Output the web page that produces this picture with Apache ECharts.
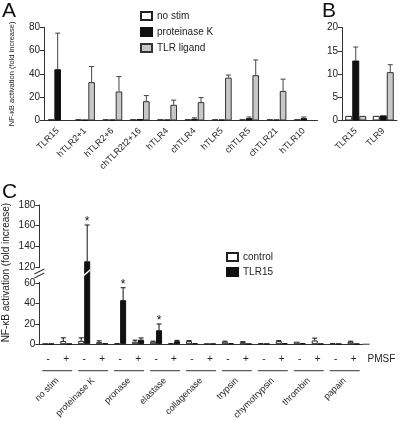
<!DOCTYPE html>
<html><head><meta charset="utf-8">
<script src="https://cdn.jsdelivr.net/npm/echarts@6/dist/echarts.min.js"></script>
<style>html,body{margin:0;padding:0;background:#fff}#c{width:400px;height:422px}</style>
</head><body><div id="c"></div>
<script>
// ---- Panel A data ----
const catsA = ['TLR15','hTLR2+1','hTLR2+6','chTLR2t2+16','hTLR4','chTLR4','hTLR5','chTLR5','chTLR21','hTLR10'];
const noStimA = [1,1,1,1,1,1,1,1,1,1];
const protKA = [44,0.6,0.8,1.3,0.8,1.5,0.8,2,0.8,2];
const protKErrA = [75,null,null,null,null,2.3,null,3,null,3];
const ligandA = [null,32.9,24.9,16.6,13.5,15.8,36.8,38.9,25.4,null];
const ligandErrA = [null,46.3,37.7,21.4,17.5,19.7,39,52,35.5,null];
const ticksA = [0,20,40,60,80];
// ---- Panel B data ----
const catsB = ['TLR15','TLR9'];
const noStimB = [1,1];
const protKB = [12.9,1.1];
const protKErrB = [15.8,null];
const ligandB = [1,10.4];
const ligandErrB = [null,12.0];
const ticksB = [0,5,10,15,20];
// ---- Panel C data ----
const pmsfC = ['-','+','-','+','-','+','-','+','-','+','-','+','-','+','-','+','-','+'];
const proteasesC = ['no stim','proteinase K','pronase','elastase','collagenase','trypsin','chymotrypsin','thrombin','papain'];
const controlC = [0.5,3.1,3.3,2,1,2.5,2.5,1,3,0.5,2.5,2,1,3,2.5,3.7,1,2.5];
const controlErrC = [null,6.3,6.3,3.3,null,4,3,null,3.5,null,3,2.5,null,3.5,null,6,null,3];
const tlr15C = [0.5,0.5,125.4,1,43.5,4.5,13.8,3,1,0.5,1,0.5,0.5,1,1,0.5,0.5,0.5];
const tlr15ErrC = [null,null,160.6,null,55.8,6.2,20,3.8,null,null,null,null,null,null,null,null,null,null];
const starsC = [2,4,6];
const ticksCLow = [0,20,40,60];
const ticksCUp = [120,140,160,180];
const cLowMax = 71.36, cUpMin = 115;

const FONT = 'Liberation Sans, Arial, Helvetica, sans-serif';
const AX = '#333', TX = '#222';

function errData(vals, errs, stars){
  const out=[];
  vals.forEach((v,i)=>{ if(errs[i]!=null) out.push([i, v, errs[i], stars && stars.includes(i)?1:0]); });
  return out;
}
function errSeries(xi, yi, data, k, n, bw, color){
  return {type:'custom', xAxisIndex:xi, yAxisIndex:yi, clip:true, silent:true, z:5,
    encode:{x:0, y:[1,2]}, data:data,
    renderItem:(params, api)=>{
      const i=api.value(0), v=api.value(1), e=api.value(2), s=api.value(3);
      const c=api.coord([i,v]), t=api.coord([i,e]);
      const x=c[0]+(k-(n-1)/2)*bw;
      const ch=[
        {type:'line', shape:{x1:x,y1:c[1],x2:x,y2:t[1]}, style:{stroke:color,lineWidth:1}},
        {type:'line', shape:{x1:x-2.5,y1:t[1],x2:x+2.5,y2:t[1]}, style:{stroke:color,lineWidth:1}}
      ];
      if(s) ch.push({type:'text', x:x, y:t[1]-3, style:{text:'*', fontSize:12, fontFamily:FONT, fill:'#111', align:'center', verticalAlign:'middle'}});
      return {type:'group', children:ch};
    }};
}
function yAx(gi, min, max, ticks, extra){
  return Object.assign({type:'value', gridIndex:gi, min:min, max:max,
    axisLine:{show:true, lineStyle:{color:AX}},
    axisTick:{show:true, length:4, customValues:ticks, lineStyle:{color:AX}},
    axisLabel:{fontSize:10, color:TX, margin:4, customValues:ticks, fontFamily:FONT},
    splitLine:{show:false}}, extra||{});
}
const white = {color:'#fff', borderColor:'#222', borderWidth:1};
const black = {color:'#111', borderColor:'#111', borderWidth:1};
const gray  = {color:'#c8c8c8', borderColor:'#333', borderWidth:1};
const bwA=6.6, bwB=7, bwC=6;

const chart = echarts.init(document.getElementById('c'));
const option = {
  animation:false,
  textStyle:{fontFamily:FONT},
  grid:[
    {left:38.5, top:27.3, width:279, height:93.2},
    {left:342, top:27.5, width:55, height:93},
    {left:39.3, top:205, width:323.3, height:67},
    {left:39.3, top:272, width:323.3, height:73.5}
  ],
  xAxis:[
    {type:'category', gridIndex:0, data:catsA, axisLine:{lineStyle:{color:AX}},
      axisTick:{alignWithLabel:true, length:5, lineStyle:{color:AX}},
      axisLabel:{rotate:45, fontSize:9, color:TX, margin:9, interval:0}},
    {type:'category', gridIndex:1, data:catsB, axisLine:{lineStyle:{color:AX}},
      axisTick:{alignWithLabel:true, length:5, lineStyle:{color:AX}},
      axisLabel:{rotate:45, fontSize:9, color:TX, margin:9, interval:0}},
    {type:'category', gridIndex:2, data:pmsfC, show:false},
    {type:'category', gridIndex:3, data:pmsfC, axisLine:{lineStyle:{color:AX}},
      axisTick:{alignWithLabel:true, length:5, lineStyle:{color:AX}},
      axisLabel:{fontSize:10, color:TX, margin:10, interval:0}},
    {type:'category', gridIndex:3, data:proteasesC, position:'bottom', offset:32,
      axisLine:{show:false}, axisTick:{show:false},
      axisLabel:{rotate:45, fontSize:9, color:TX, margin:3, interval:0}}
  ],
  yAxis:[
    yAx(0, 0, 80, ticksA, {name:'NF-κB activation (fold increase)', nameLocation:'middle', nameGap:28, nameTextStyle:{fontSize:7.5, color:TX}}),
    yAx(1, 0, 20, ticksB),
    yAx(2, cUpMin, 180, ticksCUp),
    yAx(3, 0, cLowMax, ticksCLow)
  ],
  legend:[
    {left:140, top:11, orient:'vertical', itemWidth:11, itemHeight:8, itemGap:6, padding:0, icon:'rect',
      textStyle:{fontSize:10, color:TX}, data:['no stim','proteinase K','TLR ligand'], selectedMode:false},
    {left:226, top:252, orient:'vertical', itemWidth:11, itemHeight:8, itemGap:5, padding:0, icon:'rect',
      textStyle:{fontSize:10, color:TX}, data:['control','TLR15'], selectedMode:false}
  ],
  series:[
    {name:'no stim', type:'bar', xAxisIndex:0, yAxisIndex:0, data:noStimA, barWidth:bwA, barGap:'0%', itemStyle:white},
    {name:'proteinase K', type:'bar', xAxisIndex:0, yAxisIndex:0, data:protKA, barWidth:bwA, barGap:'0%', itemStyle:black},
    {name:'TLR ligand', type:'bar', xAxisIndex:0, yAxisIndex:0, data:ligandA, barWidth:bwA, barGap:'0%', itemStyle:gray},
    errSeries(0,0,errData(protKA, protKErrA),1,3,bwA,'#444'),
    errSeries(0,0,errData(ligandA, ligandErrA),2,3,bwA,'#444'),
    {name:'no stim', type:'bar', xAxisIndex:1, yAxisIndex:1, data:noStimB, barWidth:bwB, barGap:'0%', itemStyle:white},
    {name:'proteinase K', type:'bar', xAxisIndex:1, yAxisIndex:1, data:protKB, barWidth:bwB, barGap:'0%', itemStyle:black},
    {name:'TLR ligand', type:'bar', xAxisIndex:1, yAxisIndex:1, data:ligandB, barWidth:bwB, barGap:'0%', itemStyle:gray},
    errSeries(1,1,errData(protKB, protKErrB),1,3,bwB,'#444'),
    errSeries(1,1,errData(ligandB, ligandErrB),2,3,bwB,'#444'),
    {name:'control', type:'bar', xAxisIndex:2, yAxisIndex:2, data:controlC, barWidth:bwC, barGap:'0%', itemStyle:white, clip:true},
    {name:'TLR15', type:'bar', xAxisIndex:2, yAxisIndex:2, data:tlr15C, barWidth:bwC, barGap:'0%', itemStyle:black, clip:true},
    errSeries(2,2,errData(tlr15C, tlr15ErrC, starsC),1,2,bwC,'#111'),
    {name:'control', type:'bar', xAxisIndex:3, yAxisIndex:3, data:controlC, barWidth:bwC, barGap:'0%', itemStyle:white, clip:true},
    {name:'TLR15', type:'bar', xAxisIndex:3, yAxisIndex:3, data:tlr15C, barWidth:bwC, barGap:'0%', itemStyle:black, clip:true},
    errSeries(3,3,errData(controlC, controlErrC),0,2,bwC,'#111'),
    errSeries(3,3,errData(tlr15C, tlr15ErrC, starsC),1,2,bwC,'#111')
  ]
};
chart.setOption(option);

// decorations computed from the axes
const px = (x, y) => chart.convertToPixel({xAxisIndex:3, yAxisIndex:3}, [x, y]);
const y0 = px(0,0)[1];
const catW = px(1,0)[0]-px(0,0)[0];
const axisX = px(0,0)[0]-catW/2;
const yb = px(0,cLowMax)[1];
const rightX = px(pmsfC.length-1,0)[0]+catW/2;
const g = [];
const letter = (t,x,y)=>({type:'text', x:x, y:y, style:{text:t, fontSize:21, fontFamily:FONT, fill:'#111', verticalAlign:'top', align:'left'}});
g.push(letter('A',2,1)); g.push(letter('B',322,1)); g.push(letter('C',2,182));
// axis break
g.push({type:'rect', shape:{x:axisX-2, y:yb-4, width:4, height:14}, style:{fill:'#fff'}, z:100});
g.push({type:'line', shape:{x1:axisX-5,y1:yb+2,x2:axisX+5,y2:yb-3}, style:{stroke:AX,lineWidth:1.2}, z:101});
g.push({type:'line', shape:{x1:axisX-5,y1:yb+6,x2:axisX+5,y2:yb+1}, style:{stroke:AX,lineWidth:1.2}, z:101});
// slash across broken bar
const bi = tlr15C.indexOf(Math.max(...tlr15C));
const bx = px(bi,0)[0];
g.push({type:'line', shape:{x1:bx-0.5,y1:yb+3.5,x2:bx+bwC+0.5,y2:yb-2.5}, style:{stroke:'#fff',lineWidth:1.6}, z:100});
// pair lines
for(let j=0;j<proteasesC.length;j++){
  const x1=px(2*j,0)[0]-catW/2+3, x2=px(2*j+1,0)[0]+catW/2-3;
  g.push({type:'line', shape:{x1:x1,y1:y0+26.5,x2:x2,y2:y0+26.5}, style:{stroke:AX,lineWidth:1}});
}
// axis extension + PMSF
g.push({type:'line', shape:{x1:rightX,y1:y0,x2:rightX+7,y2:y0}, style:{stroke:AX,lineWidth:1}});
g.push({type:'text', x:rightX+5, y:y0+15, style:{text:'PMSF', fontSize:10, fontFamily:FONT, fill:TX, verticalAlign:'middle'}});
// C y title
const yTop = chart.convertToPixel({xAxisIndex:2, yAxisIndex:2},[0,180])[1];
g.push({type:'text', x:6, y:(yTop+y0)/2-2, rotation:Math.PI/2, style:{text:'NF-κB activation (fold increase)', fontSize:10, fontFamily:FONT, fill:TX, align:'center', verticalAlign:'middle'}});
chart.setOption({graphic:g});
</script></body></html>
